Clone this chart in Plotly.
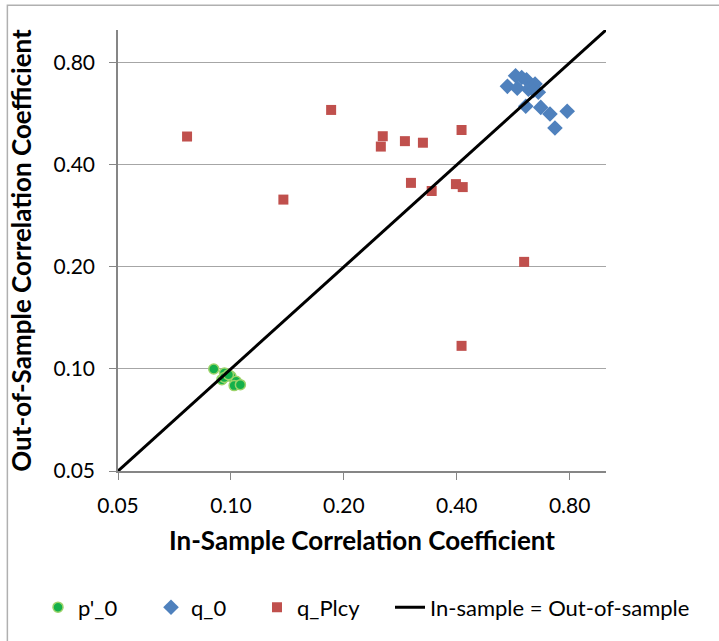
import plotly.graph_objects as go

# p'_0 (green circles)
p0_in = [0.090, 0.0961, 0.100, 0.0946, 0.096, 0.1033, 0.1020, 0.106, 0.0985]
p0_out = [0.100, 0.0973, 0.0951, 0.0930, 0.0944, 0.0920, 0.0893, 0.0899, 0.0962]

# q_0 (blue diamonds)
q0_in = [0.546, 0.574, 0.580, 0.596, 0.614, 0.621, 0.647, 0.641, 0.660, 0.611, 0.670, 0.709, 0.788, 0.731]
q0_out = [0.682, 0.733, 0.673, 0.724, 0.713, 0.669, 0.693, 0.663, 0.655, 0.596, 0.591, 0.565, 0.576, 0.514]

# q_Plcy (red squares)
qp_in = [0.0764, 0.185, 0.254, 0.251, 0.291, 0.325, 0.412, 0.302, 0.343, 0.398, 0.415, 0.138, 0.605, 0.412]
qp_out = [0.485, 0.581, 0.486, 0.453, 0.470, 0.465, 0.507, 0.354, 0.335, 0.351, 0.344, 0.316, 0.207, 0.117]

# reference line
ref_line = [0.05, 1.0]

tick_vals = [0.05, 0.10, 0.20, 0.40, 0.80]
tick_text = ["0.05", "0.10", "0.20", "0.40", "0.80"]

FONT = "Lato"
LEG_FONT = dict(family=FONT, size=22, color="black")

fig = go.Figure()
fig.add_trace(go.Scatter(x=p0_in, y=p0_out, mode="markers", name="p'_0", legend="legend",
                         marker=dict(symbol="circle", size=10, color="#14B04A",
                                     line=dict(color="#9BD36A", width=1.5))))
fig.add_trace(go.Scatter(x=q0_in, y=q0_out, mode="markers", name="q_0", legend="legend2",
                         marker=dict(symbol="diamond", size=12, color="#4F81BD",
                                     line=dict(width=0))))
fig.add_trace(go.Scatter(x=qp_in, y=qp_out, mode="markers", name="q_Plcy", legend="legend3",
                         marker=dict(symbol="square", size=10, color="#C0504D",
                                     line=dict(width=0))))
fig.add_trace(go.Scatter(x=ref_line, y=ref_line, mode="lines", name="In-sample = Out-of-sample",
                         legend="legend4", line=dict(color="black", width=3)))

axis_common = dict(
    type="log", tickvals=tick_vals, ticktext=tick_text,
    showline=True, linecolor="#868686", linewidth=1.5,
    ticks="outside", ticklen=7, tickcolor="#868686",
    tickfont=dict(family=FONT, size=21, color="black"),
    zeroline=False, range=[-1.30103, 0.0], automargin=False,
)

fig.update_xaxes(**axis_common, showgrid=False, ticklabelstandoff=8,
                 title=dict(text="<b>In-Sample Correlation Coefficient</b>",
                            font=dict(family=FONT, size=26, color="black"), standoff=16))
fig.update_yaxes(**axis_common, showgrid=True, gridcolor="#a6a6a6", gridwidth=1.3,
                 ticklabelstandoff=10,
                 title=dict(text="<b>Out-of-Sample Correlation Coefficient</b>",
                            font=dict(family=FONT, size=26, color="black"), standoff=14))

fig.add_shape(type="rect", xref="paper", yref="paper",
              x0=-0.2267, x1=1.5, y0=-0.6, y1=1.056,
              line=dict(color="#b0b0b0", width=1.5), fillcolor="rgba(0,0,0,0)", layer="below")

def leg(xpix):
    return dict(orientation="h", x=(xpix - 118) / 488, xanchor="left",
                y=(473 - 610) / 443, yanchor="middle", font=LEG_FONT,
                bgcolor="rgba(0,0,0,0)", borderwidth=0)

fig.update_layout(
    width=719, height=641,
    margin=dict(l=118, r=113, t=30, b=168),
    paper_bgcolor="white", plot_bgcolor="white",
    font=dict(family=FONT, color="black"),
    showlegend=True,
    legend=leg(38), legend2=leg(151), legend3=leg(257), legend4=leg(390),
)

fig.write_html("out.html", config={"displayModeBar": False},
               post_script="document.body.style.margin='0px';")
